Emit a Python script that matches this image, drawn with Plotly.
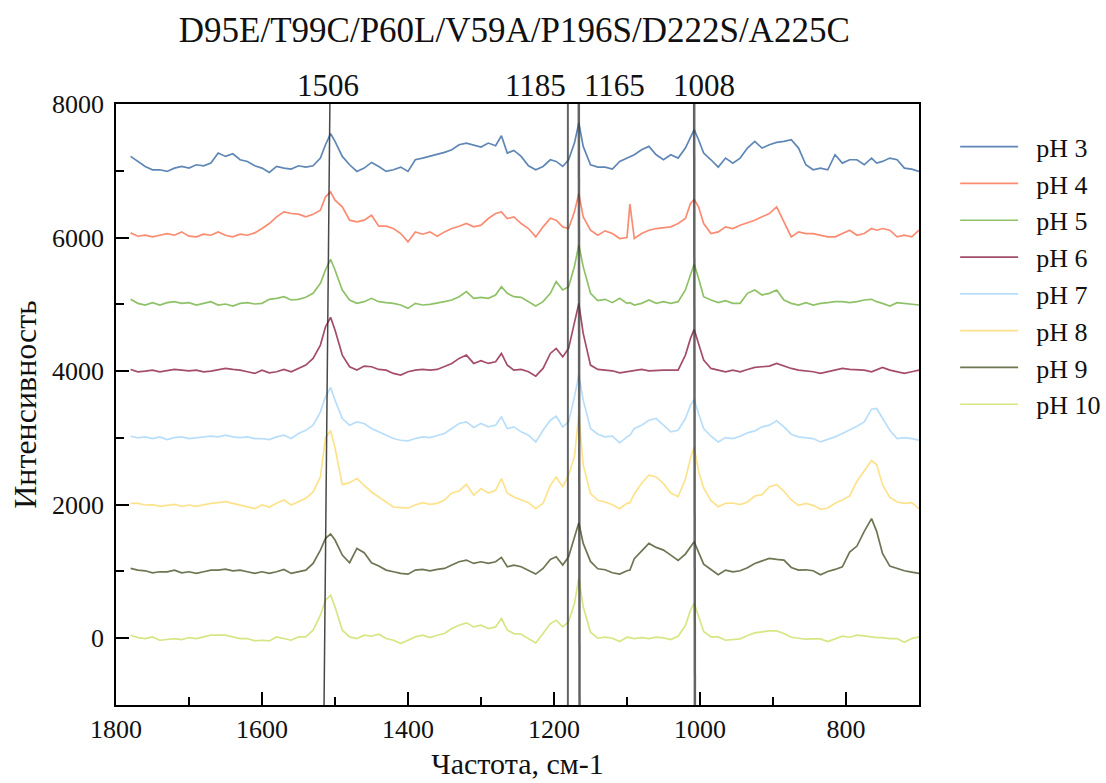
import plotly.graph_objects as go

WAVENUMBER = [1780, 1770, 1760, 1750, 1740, 1730, 1720, 1710, 1700, 1690,
              1680, 1670, 1660, 1650, 1640, 1630, 1620, 1610, 1600, 1590,
              1580, 1570, 1560, 1550, 1540, 1530, 1520, 1513, 1506, 1500,
              1490, 1480, 1470, 1460, 1450, 1440, 1430, 1420, 1410, 1400,
              1390, 1380, 1370, 1360, 1350, 1340, 1330, 1320, 1310, 1300,
              1290, 1280, 1272, 1264, 1255, 1245, 1235, 1225, 1215, 1205,
              1197, 1188, 1180, 1172, 1166, 1160, 1150, 1140, 1130, 1120,
              1110, 1100, 1096, 1090, 1080, 1070, 1060, 1050, 1040, 1030,
              1020, 1013, 1008, 1002, 995, 985, 975, 965, 955, 945,
              935, 925, 915, 905, 895, 885, 875, 865, 855, 845,
              835, 825, 815, 805, 795, 785, 775, 765, 758, 750,
              740, 730, 720, 710, 700]

# intensities relative to each spectrum's own baseline
PH3 = [215, 140, 65, 15, 15, -10, 40, 65, 40, 90,
       75, 115, 265, 215, 255, 165, 140, 75, 40, -25,
       65, 40, 25, 75, 55, 75, 190, 390, 555, 440,
       215, 90, -10, 40, 125, 65, -10, 15, 55, -10,
       165, 190, 215, 240, 275, 315, 390, 415, 390, 355,
       415, 375, 525, 265, 305, 215, 75, 15, 65, 165,
       140, 65, 165, 415, 715, 365, 90, 55, 55, 25,
       140, 190, 215, 240, 315, 365, 240, 165, 240, 190,
       340, 515, 615, 465, 265, 165, 55, 190, 115, 190,
       340, 440, 340, 390, 425, 440, 465, 340, 90, 15,
       40, 15, 240, 115, 165, 165, 90, 190, 115, 140,
       190, 165, 40, 25, -10]
PH4 = [70, 20, 35, 10, 35, 60, 35, 85, 20, 10,
       50, 35, 85, 35, 10, 50, 35, 70, 135, 210,
       310, 385, 360, 350, 310, 350, 410, 610, 685, 560,
       460, 260, 235, 260, 335, 170, 170, 135, 60, -65,
       85, 50, 85, 20, 85, 135, 170, 210, 160, 185,
       285, 360, 385, 285, 310, 210, 135, 10, 160, 290,
       260, 160, 135, 385, 660, 310, 110, 35, 100, 60,
       -15, 0, 500, -15, 60, 110, 135, 150, 160, 210,
       285, 510, 570, 460, 210, 60, 85, 160, 135, 185,
       220, 260, 310, 360, 460, 235, 10, 85, 60, 60,
       35, 10, 10, 60, 110, 35, 60, 135, 110, 135,
       110, 10, 35, 10, 110]
PH5 = [75, 15, -10, 25, -10, 25, 40, 15, 25, -10,
       15, 40, -10, 5, -25, 15, 25, 5, 15, 75,
       90, 115, 65, 75, 105, 165, 315, 515, 675, 515,
       215, 65, 15, 40, 90, 40, 25, 15, -10, -60,
       15, -10, 0, 15, 40, 65, 115, 190, 90, 105,
       90, 140, 265, 165, 115, 105, 40, -25, 40, 165,
       340, 215, 265, 565, 890, 565, 165, 55, 75, 25,
       90, 15, 25, -10, 15, 65, 15, 40, 15, 40,
       215, 440, 605, 390, 115, 65, 25, 55, 15, 15,
       165, 215, 140, 165, 215, 65, 15, -10, 25, -10,
       15, 25, 40, 40, 25, 40, 65, 75, 40, 15,
       -25, 25, 15, 5, -10]
PH6 = [25, -10, 0, 15, -10, 5, 25, 15, 5, 15,
       -10, 0, 15, 40, 25, 15, -10, -35, 15, -25,
       -10, 25, -10, 40, 90, 190, 390, 665, 805, 615,
       240, 65, 15, 75, 65, 25, 15, -35, -60, -10,
       15, 25, 15, 25, 65, 115, 190, 240, 115, 155,
       115, 140, 265, 90, 15, 25, -10, -75, 40, 265,
       340, 215, 340, 715, 1015, 565, 90, 25, 15, 5,
       -25, -10, 5, 15, 25, 5, 15, 15, 15, 15,
       240, 490, 625, 415, 165, 40, 15, -10, 15, -10,
       25, 55, 65, 75, 115, 75, 40, 15, 5, -10,
       -35, -10, 15, 40, 25, 15, 15, -10, 25, 55,
       15, -10, -35, -10, 15]
PH7 = [25, 0, 15, -10, 15, -25, 5, 15, -10, 5,
       15, 25, 15, 40, 15, 5, 15, -10, -10, -25,
       15, 40, -10, 65, 115, 190, 390, 615, 755, 565,
       290, 190, 240, 215, 140, 90, 40, -10, -35, -45,
       -10, 15, 5, 40, 65, 140, 215, 240, 155, 215,
       165, 190, 315, 140, 165, 90, 40, -60, 115, 265,
       325, 165, 240, 615, 940, 565, 140, 55, 15, 25,
       -75, 15, 40, 140, 190, 265, 290, 190, 90, 115,
       290, 490, 575, 365, 140, 25, -60, 5, -10, 25,
       75, 105, 165, 190, 255, 165, 55, 15, 5, -10,
       -60, -25, 15, 65, 115, 175, 240, 430, 440, 290,
       115, -10, 5, -10, -35]
PH8 = [20, 20, -5, 0, -25, -5, 5, -25, -5, -25,
       0, 20, 30, 45, 20, -5, -35, -60, -5, -35,
       20, 70, -5, 45, 95, 190, 415, 1000, 1110, 850,
       300, 330, 390, 290, 190, 115, 45, -35, -45, -50,
       -5, 30, 5, 20, 70, 175, 205, 305, 140, 240,
       175, 215, 390, 175, 115, 70, 30, -60, 20, 290,
       415, 265, 440, 720, 1340, 600, 165, 65, 40, 0,
       -60, 20, 30, 160, 320, 440, 415, 315, 175, 120,
       380, 700, 860, 500, 250, 60, -30, 20, 25, 0,
       40, 130, 150, 270, 300, 200, 70, -10, 20, -10,
       -70, -50, 20, 70, 130, 350, 500, 660, 600, 300,
       110, 40, 20, 30, -60]
PH9 = [45, 20, 10, -20, -5, -5, 20, -20, -5, -30,
       -5, 20, 20, 35, 10, 20, -5, -30, -5, -30,
       -5, 30, -30, -5, 20, 120, 320, 495, 560, 470,
       245, 130, 345, 280, 130, 80, 20, -5, -30, -40,
       20, 30, 10, 30, 45, 95, 145, 170, 120, 145,
       120, 145, 210, 70, 95, 70, 20, -40, 45, 180,
       220, 95, 220, 495, 730, 420, 150, 40, 25, -20,
       -40, 10, 20, 190, 310, 420, 360, 320, 245, 165,
       260, 380, 445, 290, 110, 30, -50, 20, -5, 10,
       55, 120, 160, 195, 180, 170, 60, 20, 25, 10,
       -50, 0, 30, 70, 290, 380, 600, 790, 600, 270,
       80, 40, 10, -10, -30]
PH10 = [45, 10, -5, 20, -30, -20, -5, -20, 10, -5,
        20, 45, 45, 45, 20, -5, -5, -40, -30, -40,
        20, -5, -30, 20, 20, 120, 345, 570, 645, 470,
        120, 20, -5, 45, 30, 60, -5, -30, -80, -30,
        20, 45, 10, 45, 70, 145, 195, 230, 170, 195,
        145, 170, 295, 120, 70, 60, -5, -70, 70, 220,
        270, 170, 245, 520, 895, 470, 90, 0, 15, 0,
        -50, 15, 10, -5, 10, -5, 15, 5, -20, 30,
        190, 420, 520, 330, 100, 20, 20, -30, -20, -10,
        40, 80, 95, 110, 110, 70, 15, -5, -15, -10,
        -10, -50, -5, 30, 15, 45, 35, 20, 10, 10,
        -5, -5, -60, -5, 20]

SERIES = [PH3, PH4, PH5, PH6, PH7, PH8, PH9, PH10]
OFFSETS = [7000, 6000, 5000, 4000, 3000, 2000, 1000, 0]
LABELS = ["pH 3", "pH 4", "pH 5", "pH 6", "pH 7", "pH 8", "pH 9", "pH 10"]
COLORS = ["#5f87b6", "#fa8c72", "#8fc268", "#a44d6b",
          "#b9defa", "#fde28c", "#6c7653", "#d5e784"]

PEAK_LABELS = ["1506", "1185", "1165", "1008"]
PEAK_TOP = [1507, 1181, 1166, 1008]
PEAK_BOTTOM = [1515, 1181, 1165, 1007]

TITLE = "D95E/T99C/P60L/V59A/P196S/D222S/A225C"
FONT = "Liberation Serif"

for s in SERIES:
    assert len(s) == len(WAVENUMBER)

fig = go.Figure()
for vals, off, name, col in zip(SERIES, OFFSETS, LABELS, COLORS):
    fig.add_trace(go.Scatter(
        x=WAVENUMBER, y=[v + off for v in vals], mode="lines",
        name="\u00a0\u00a0" + name,
        line=dict(color=col, width=1.7),
    ))

line_styles = [dict(color="rgba(40,40,40,0.85)", width=1.5),
               dict(color="rgba(60,60,60,0.8)", width=2),
               dict(color="rgba(60,60,60,0.8)", width=2.5),
               dict(color="rgba(60,60,60,0.8)", width=2.5)]
for top, bot, st in zip(PEAK_TOP, PEAK_BOTTOM, line_styles):
    fig.add_shape(type="line", xref="x", yref="y", x0=bot, y0=-1000, x1=top, y1=8000,
                  line=st, layer="above")

label_pos = [(1510, "center"), (1181, "right"), (1161, "left"), (995, "center")]
for txt, (xp, anc) in zip(PEAK_LABELS, label_pos):
    fig.add_annotation(x=xp, y=1.03, xref="x", yref="paper", text=txt,
                       showarrow=False, xanchor=anc, yanchor="middle",
                       font=dict(family=FONT, size=31, color="#111"))

fig.update_layout(
    width=1106, height=783,
    margin=dict(l=116, r=187, t=104, b=78, autoexpand=False),
    paper_bgcolor="white", plot_bgcolor="white",
    font=dict(family=FONT, size=26, color="#111"),
    title=dict(text=TITLE, x=0.465, xanchor="center", y=0.962, yanchor="middle",
               font=dict(family=FONT, size=35, color="#111")),
    legend=dict(x=1.045, y=0.968, xanchor="left", yanchor="top",
                font=dict(family=FONT, size=26, color="#111"),
                itemwidth=58, bgcolor="rgba(0,0,0,0)"),
    showlegend=True,
)
fig.update_xaxes(
    range=[1800, 700], showline=True, linecolor="black", linewidth=1.5, mirror=True,
    ticks="inside", ticklen=13, tickwidth=1.5, tickcolor="black", dtick=200,
    minor=dict(ticks="inside", ticklen=8, dtick=100, tickwidth=1.5, tickcolor="black"),
    showgrid=False, zeroline=False,
    title=dict(text="Частота, см-1", font=dict(family=FONT, size=30), standoff=10),
    tickfont=dict(family=FONT, size=26),
)
fig.update_yaxes(
    range=[-1000, 8000], showline=True, linecolor="black", linewidth=1.5, mirror=True,
    ticks="inside", ticklen=13, tickwidth=1.5, tickcolor="black", dtick=2000,
    tick0=0, minor=dict(ticks="inside", ticklen=8, dtick=1000, tickwidth=1.5, tickcolor="black"),
    showgrid=False, zeroline=False, ticklabelstandoff=5,
    title=dict(text="Интенсивность", font=dict(family=FONT, size=32), standoff=6),
    tickfont=dict(family=FONT, size=26),
)

fig.write_html("out.html")
